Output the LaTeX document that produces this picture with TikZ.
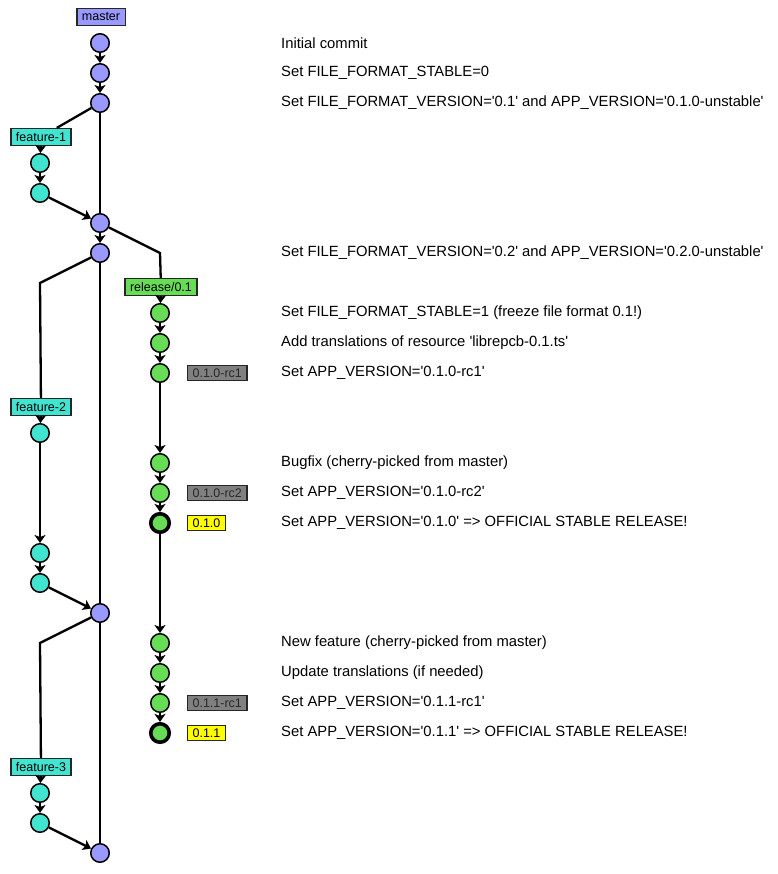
\documentclass[tikz,border=0pt]{standalone}
\usepackage{fontspec}
\setmainfont{Liberation Sans}[Ligatures=TeXOff]
\usetikzlibrary{arrows.meta}
\definecolor{gmaster}{RGB}{153,153,255}
\definecolor{gfeature}{RGB}{64,228,208}
\definecolor{grelease}{RGB}{102,221,85}
\definecolor{gtag}{RGB}{128,128,128}
\definecolor{gtagtext}{RGB}{40,40,40}
\definecolor{gstable}{RGB}{255,255,0}

\begin{document}
\begin{tikzpicture}[x=1pt, y=-1pt,
  every node/.style={font=\fontsize{14.8}{17}\selectfont},
  commit/.style={circle, draw=black, line width=1.5pt, minimum size=18.5pt,
                 inner sep=0pt},
  mcommit/.style={commit, fill=gmaster},
  fcommit/.style={commit, fill=gfeature},
  rcommit/.style={commit, fill=grelease},
  stable/.style={line width=3.6pt},
  branchlbl/.style={rectangle, draw=black!85, line width=1.2pt,
                    font=\fontsize{12.5}{14}\selectfont, minimum height=17pt,
                    inner xsep=5pt, inner ysep=0pt},
  tagbox/.style={branchlbl, anchor=west, minimum height=15pt},
  rctag/.style={tagbox, fill=gtag, text=gtagtext},
  reltag/.style={tagbox, fill=gstable},
  msg/.style={anchor=west, inner sep=0pt},
  gline/.style={line width=2.3pt},
  garrow/.style={gline, -{Stealth[length=8pt,width=11pt,inset=2pt]}},
]
\useasboundingbox (0,0) rectangle (777,874);

% ── Branch labels ──
\node[branchlbl, fill=gmaster]  (mlbl)  at (101,17)  {master};
\node[branchlbl, fill=gfeature] (f1lbl) at (41,137)  {feature-1};
\node[branchlbl, fill=grelease] (rlbl)  at (161,287) {release/0.1};
\node[branchlbl, fill=gfeature] (f2lbl) at (41,407)  {feature-2};
\node[branchlbl, fill=gfeature] (f3lbl) at (41,767)  {feature-3};

% ── master ──
\node[mcommit] (m1) at (100,43)  {};
\node[mcommit] (m2) at (100,73)  {};
\node[mcommit] (m3) at (100,103) {};
\node[mcommit] (m4) at (100,223) {};
\node[mcommit] (m5) at (100,253) {};
\node[mcommit] (m6) at (100,613) {};
\node[mcommit] (m7) at (100,853) {};

% ── feature branches ──
\node[fcommit] (f1a) at (40,163) {};
\node[fcommit] (f1b) at (40,193) {};
\node[fcommit] (f2a) at (40,433) {};
\node[fcommit] (f2b) at (40,553) {};
\node[fcommit] (f2c) at (40,583) {};
\node[fcommit] (f3a) at (40,793) {};
\node[fcommit] (f3b) at (40,823) {};

% ── release/0.1 ──
\node[rcommit] (r1)  at (160,313) {};
\node[rcommit] (r2)  at (160,343) {};
\node[rcommit] (r3)  at (160,373) {};
\node[rcommit] (r4)  at (160,463) {};
\node[rcommit] (r5)  at (160,493) {};
\node[rcommit, stable] (r6)  at (160,523) {};
\node[rcommit] (r7)  at (160,643) {};
\node[rcommit] (r8)  at (160,673) {};
\node[rcommit] (r9)  at (160,703) {};
\node[rcommit, stable] (r10) at (160,733) {};

% Tags
\node[rctag]  (t1) at (187,373) {0.1.0-rc1};
\node[rctag]  (t2) at (187,493) {0.1.0-rc2};
\node[reltag] (t3) at (187,523) {0.1.0};
\node[rctag]  (t4) at (187,703) {0.1.1-rc1};
\node[reltag] (t5) at (187,733) {0.1.1};

% Bend points
\coordinate (relbend) at (160,253);
\coordinate (f2bend)  at (40,283);
\coordinate (f3bend)  at (40,643);

% ── master flows ──
\draw[garrow] (m1) -- (m2);
\draw[garrow] (m2) -- (m3);
\draw[gline]  (m3) -- (m4);
\draw[garrow] (m4) -- (m5);
\draw[gline]  (m5) -- (m6);
\draw[gline]  (m6) -- (m7);

% ── feature flows ──
\draw[gline]  (m3) -- (f1lbl);
\draw[garrow] (f1lbl) -- (f1a);
\draw[garrow] (f1a) -- (f1b);
\draw[garrow] (f1b) -- (m4);
\draw[gline]  (m5) -- (f2bend) -- (f2lbl);
\draw[garrow] (f2lbl) -- (f2a);
\draw[garrow] (f2a) -- (f2b);
\draw[garrow] (f2b) -- (f2c);
\draw[garrow] (f2c) -- (m6);
\draw[gline]  (m6) -- (f3bend) -- (f3lbl);
\draw[garrow] (f3lbl) -- (f3a);
\draw[garrow] (f3a) -- (f3b);
\draw[garrow] (f3b) -- (m7);

% ── release flows ──
\draw[gline]  (m4) -- (relbend) -- (rlbl);
\draw[garrow] (rlbl) -- (r1);
\draw[garrow] (r1) -- (r2);
\draw[garrow] (r2) -- (r3);
\draw[garrow] (r3) -- (r4);
\draw[garrow] (r4) -- (r5);
\draw[garrow] (r5) -- (r6);
\draw[garrow] (r6) -- (r7);
\draw[garrow] (r7) -- (r8);
\draw[garrow] (r8) -- (r9);
\draw[garrow] (r9) -- (r10);

% Commit messages
\node[msg] (msg1)  at (281,43)  {Initial commit};
\node[msg] (msg2)  at (281,73)  {Set FILE\_FORMAT\_STABLE=0};
\node[msg] (msg3)  at (281,103) {Set FILE\_FORMAT\_VERSION='0.1' and APP\_VERSION='0.1.0-unstable'};
\node[msg] (msg4)  at (281,253) {Set FILE\_FORMAT\_VERSION='0.2' and APP\_VERSION='0.2.0-unstable'};
\node[msg] (msg5)  at (281,313) {Set FILE\_FORMAT\_STABLE=1 (freeze file format 0.1!)};
\node[msg] (msg6)  at (281,343) {Add translations of resource 'librepcb-0.1.ts'};
\node[msg] (msg7)  at (281,373) {Set APP\_VERSION='0.1.0-rc1'};
\node[msg] (msg8)  at (281,463) {Bugfix (cherry-picked from master)};
\node[msg] (msg9)  at (281,493) {Set APP\_VERSION='0.1.0-rc2'};
\node[msg] (msg10) at (281,523) {Set APP\_VERSION='0.1.0' => OFFICIAL STABLE RELEASE!};
\node[msg] (msg11) at (281,643) {New feature (cherry-picked from master)};
\node[msg] (msg12) at (281,673) {Update translations (if needed)};
\node[msg] (msg13) at (281,703) {Set APP\_VERSION='0.1.1-rc1'};
\node[msg] (msg14) at (281,733) {Set APP\_VERSION='0.1.1' => OFFICIAL STABLE RELEASE!};

\end{tikzpicture}
\end{document}
